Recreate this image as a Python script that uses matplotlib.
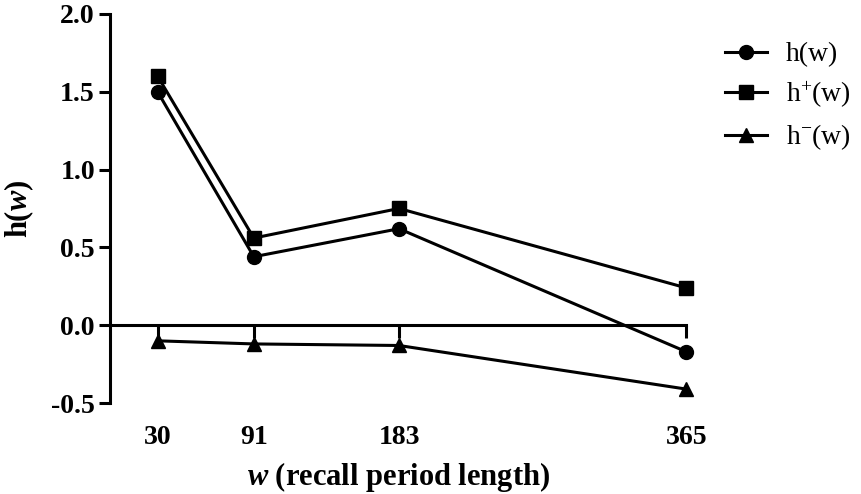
import matplotlib
matplotlib.use("Agg")
import matplotlib.pyplot as plt

# recall period lengths and the three measures
w = [30, 91, 183, 365]
h = [1.50, 0.44, 0.62, -0.17]
h_plus = [1.60, 0.56, 0.75, 0.24]
h_minus = [-0.10, -0.12, -0.13, -0.41]
y_ticks = [-0.5, 0.0, 0.5, 1.0, 1.5, 2.0]

plt.rcParams["font.family"] = "Liberation Serif"
plt.rcParams["mathtext.fontset"] = "custom"
plt.rcParams["mathtext.rm"] = "Liberation Serif"
plt.rcParams["mathtext.it"] = "Liberation Serif:italic:bold"
plt.rcParams["mathtext.bf"] = "Liberation Serif:bold"

fig = plt.figure(figsize=(8.61, 4.94), dpi=100)
ax = fig.add_axes([0.128, 0.184, 0.669, 0.788])

lw = 2.2
ax.plot(w, h, "k-o", lw=lw, ms=10, label="h(w)", clip_on=False)
ax.plot(w, h_plus, "k-s", lw=lw, ms=10, label="h$^{+}$(w)", clip_on=False)
ax.plot(w, h_minus, "k-^", lw=lw, ms=10, label="h$^{-}$(w)", clip_on=False)

ax.set_xlim(0, 365)
ax.set_ylim(-0.5, 2.0)
ax.set_yticks(y_ticks)
ax.set_yticklabels(["%.1f" % v for v in y_ticks])
ax.set_xticks(w)
ax.set_xticklabels([str(v) for v in w])

ax.spines["top"].set_visible(False)
ax.spines["right"].set_visible(False)
ax.spines["bottom"].set_position(("data", 0))
ax.spines["bottom"].set_bounds(0, 365)
for s in ["left", "bottom"]:
    ax.spines[s].set_linewidth(2.2)

ax.tick_params(axis="y", length=8, width=2.2, labelsize=20, pad=3)
ax.tick_params(axis="x", length=9, width=2.2, labelsize=20, pad=63)
for lab in ax.get_xticklabels() + ax.get_yticklabels():
    lab.set_fontweight("bold")

ax.set_ylabel("h($w$)", fontsize=22, fontweight="bold")
ax.yaxis.set_label_coords(-0.128, 0.5)
ax.set_xlabel("$w$ (recall period length)", fontsize=22, fontweight="bold")
ax.xaxis.set_label_coords(0.5, -0.145)

fig.legend(loc="upper left", bbox_to_anchor=(0.842, 0.915), frameon=False,
           borderpad=0, borderaxespad=0,
           fontsize=20, handlelength=1.5, handletextpad=0.7, labelspacing=0.45)

fig.savefig("out.png", dpi=100)
